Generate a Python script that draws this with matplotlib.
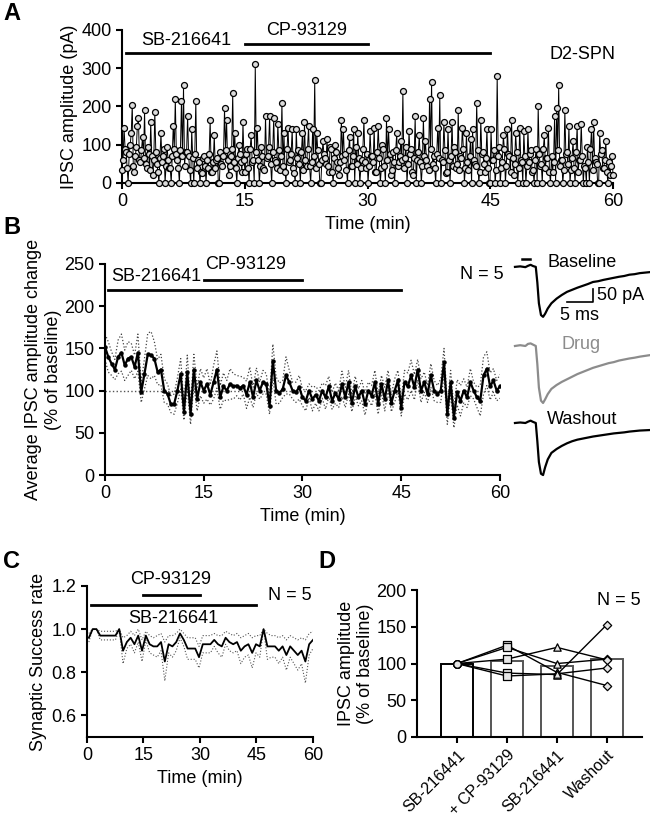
import numpy as np
import matplotlib
matplotlib.use('Agg')
import matplotlib.pyplot as plt

plt.rcParams['font.family'] = ['Liberation Sans', 'DejaVu Sans']
plt.rcParams['font.size'] = 13
plt.rcParams['axes.linewidth'] = 1.5
plt.rcParams['xtick.major.width'] = 1.5
plt.rcParams['ytick.major.width'] = 1.5
plt.rcParams['xtick.major.size'] = 4
plt.rcParams['ytick.major.size'] = 4
plt.rcParams['xtick.direction'] = 'out'
plt.rcParams['ytick.direction'] = 'out'

# ---- panel A: single-cell IPSC amplitudes (sweeps alternate between the two lists) ----
amp_a = [35, 145, 80, 0, 100, 205, 30, 95, 170, 55, 120, 190, 40, 75, 160, 20,
         185, 50, 0, 130, 70, 0, 95, 40, 0, 150, 220, 60, 0, 215, 255, 80,
         175, 35, 140, 0, 215, 60, 0, 25, 70, 0, 40, 165, 30, 125, 60, 0,
         80, 45, 195, 165, 20, 70, 235, 130, 0, 100, 55, 160,
         30, 90, 0, 125, 60, 310, 145, 0, 95, 40, 175, 70, 175, 0, 170, 55,
         155, 35, 210, 130, 0, 145, 60, 140, 25, 140, 85, 0, 130, 160, 45, 150,
         0, 140, 270, 130, 50, 0, 110, 65, 115, 30, 90, 0, 100, 55, 20, 165,
         140, 75, 0, 120, 45, 140, 95, 130, 0, 60, 165, 40,
         0, 135, 70, 145, 30, 150, 0, 100, 45, 170, 140, 20, 80, 0, 130, 55,
         110, 240, 65, 0, 135, 90, 20, 175, 60, 125, 0, 170, 110, 45, 220, 265,
         70, 0, 145, 230, 60, 160, 25, 140, 0, 160, 95, 40, 190, 70, 145, 0,
         130, 35, 115, 140, 50, 210, 0, 165, 80, 30, 140, 0,
         140, 60, 0, 280, 95, 40, 125, 0, 140, 70, 165, 20, 130, 0, 145, 55,
         135, 0, 140, 75, 30, 0, 90, 200, 45, 0, 125, 65, 145, 0, 30, 175,
         195, 255, 60, 0, 190, 80, 150, 35, 110, 0, 150, 60, 155, 0, 40, 95,
         0, 140, 160, 55, 0, 130, 85, 40, 110, 0, 20, 70]
amp_a_between = [60, 90, 40, 75, 130, 45, 70, 150, 60, 85, 65, 50, 95, 35, 70, 60,
                 80, 30, 65, 55, 90, 45, 60, 40, 70, 90, 75, 40, 85, 70, 45, 80,
                 70, 0, 65, 75, 40, 55, 30, 65, 45, 60, 75, 30, 55, 40, 65, 0,
                 50, 70, 85, 60, 45, 90, 55, 40, 65, 75, 30, 60,
                 75, 40, 90, 55, 0, 80, 60, 45, 70, 35, 65, 95, 50, 80, 60, 40,
                 85, 70, 45, 30, 90, 55, 75, 40, 0, 65, 50, 80, 35, 60, 90, 45,
                 55, 70, 40, 85, 0, 60, 75, 50, 45, 95, 30, 65, 80, 40, 55, 70,
                 60, 35, 85, 45, 70, 0, 50, 65, 40, 90, 55, 75,
                 45, 70, 55, 30, 80, 65, 40, 90, 0, 60, 75, 35, 55, 85, 45, 70,
                 60, 40, 95, 50, 75, 30, 65, 0, 80, 55, 45, 70, 60, 35, 90, 50,
                 40, 75, 65, 0, 55, 85, 30, 60, 70, 45, 80, 50, 35, 65, 90, 40,
                 55, 70, 0, 60, 45, 85, 30, 75, 50, 65, 40, 0,
                 60, 85, 35, 70, 0, 55, 90, 45, 75, 30, 65, 50, 80, 40, 60, 0,
                 70, 45, 55, 85, 35, 60, 0, 75, 50, 90, 40, 65, 30, 70, 55, 0,
                 85, 45, 60, 35, 75, 50, 0, 65, 40, 80, 30, 60, 70, 45, 0, 55,
                 90, 35, 65, 50, 0, 75, 40, 60, 30, 55, 45, 20]

# ---- panel B: mean and SEM of normalised amplitude, every 30 s ----
mean_b = [152, 140, 132, 125, 140, 145, 130, 138, 140, 128,
          145, 98, 120, 143, 142, 138, 122, 125, 100, 96,
          84, 84, 100, 120, 75, 122, 72, 125, 90, 110,
          100, 108, 95, 110, 125, 92, 105, 100, 108, 105,
          106, 103, 106, 95, 110, 92, 112, 100, 110, 108,
          82, 135, 100, 97, 102, 118, 110, 100, 98, 104,
          92, 88, 100, 90, 95, 88, 100, 92, 105, 88,
          97, 90, 108, 92, 110, 85, 105, 92, 100, 84,
          100, 94, 110, 84, 108, 90, 112, 85, 100, 112,
          80, 110, 105, 118, 104, 125, 100, 110, 96, 118,
          100, 96, 100, 134, 72, 110, 68, 98, 88, 100,
          92, 110, 100, 92, 88, 118, 126, 105, 112, 100, 105]
sem_b = [15, 18, 14, 12, 20, 22, 18, 20, 16, 14,
         22, 12, 18, 25, 28, 20, 15, 18, 14, 12,
         10, 12, 15, 18, 10, 20, 12, 18, 14, 16,
         15, 18, 12, 20, 22, 14, 16, 12, 18, 15,
         12, 14, 10, 16, 18, 12, 15, 10, 14, 12,
         10, 20, 16, 12, 10, 22, 14, 10, 12, 14,
         10, 12, 8, 14, 10, 12, 9, 14, 12, 10,
         12, 10, 15, 12, 14, 10, 12, 10, 12, 13,
         10, 12, 14, 12, 10, 14, 12, 10, 14, 12,
         10, 14, 16, 18, 15, 12, 14, 12, 10, 14,
         12, 10, 14, 16, 12, 14, 12, 15, 18, 14,
         12, 16, 10, 12, 18, 22, 20, 16, 14, 12, 14]
step_min_b = 0.5

# example traces (ms, pA)
trace_t = [0, 1, 2, 2.5, 3, 3.5, 4, 4.3, 4.6, 5.0, 5.4, 5.8, 6.3, 7, 8, 9, 10,
           11, 12, 13, 14, 15, 16, 17, 18, 19, 20, 21, 22, 23, 24, 25, 26]
trace_base = [0, 2, -1, 4, 8, 3, 0, -60, -140, -185, -192, -180, -160, -140,
              -122, -108, -96, -88, -80, -73, -66, -58, -55, -50, -46, -42,
              -38, -35, -30, -28, -24, -22, -20]
trace_drug = [0, 3, 0, 8, 10, 5, 0, -70, -160, -210, -219, -205, -185, -165,
              -150, -138, -128, -118, -108, -100, -92, -84, -78, -72, -66,
              -62, -56, -52, -48, -45, -41, -38, -35]
trace_wash = [0, 2, 0, 5, 9, 4, 0, -70, -150, -195, -200, -170, -140, -115,
              -100, -88, -78, -70, -64, -60, -56, -52, -49, -46, -43, -40,
              -38, -36, -33, -31, -29, -28, -27]
trace_names = ['Baseline', 'Drug', 'Washout']

# ---- panel C: success rate, every minute ----
mean_c = [0.96, 1.00, 1.00, 0.97, 0.97, 0.97, 0.97, 0.97, 1.00, 0.90,
          0.94, 0.96, 0.93, 0.97, 0.90, 0.97, 0.93, 0.92, 0.92, 0.94,
          0.85, 0.93, 0.92, 0.94, 0.98, 0.95, 0.91, 0.91, 0.91, 0.87,
          0.93, 0.93, 0.93, 0.95, 0.93, 0.92, 0.96, 0.94, 0.93, 0.94,
          0.90, 0.92, 0.93, 0.89, 0.93, 0.92, 1.00, 0.92, 0.92, 0.92,
          0.90, 0.92, 0.88, 0.92, 0.90, 0.88, 0.90, 0.85, 0.93, 0.95]
sem_c = [0.02, 0.00, 0.00, 0.02, 0.02, 0.02, 0.02, 0.02, 0.00, 0.06,
         0.03, 0.03, 0.04, 0.03, 0.05, 0.02, 0.04, 0.04, 0.05, 0.04,
         0.09, 0.04, 0.05, 0.04, 0.02, 0.03, 0.05, 0.05, 0.05, 0.05,
         0.04, 0.04, 0.04, 0.03, 0.04, 0.05, 0.03, 0.04, 0.04, 0.04,
         0.06, 0.05, 0.05, 0.07, 0.04, 0.05, 0.00, 0.06, 0.05, 0.05,
         0.06, 0.05, 0.07, 0.05, 0.06, 0.07, 0.06, 0.10, 0.05, 0.04]

# ---- panel D: summary ----
conditions = ['SB-216441', '+ CP-93129', 'SB-216441', 'Washout']
bar_means = [99, 104, 96, 106]
cells = [[100, 125, 88, 70],
         [100, 122, 100, 106],
         [100, 106, 122, 105],
         [100, 87, 85, 153],
         [100, 83, 86, 94]]
cond_markers = ['o', 's', '^', 'D']

sb_min = (0.5, 45)
cp_min = (15, 30)


def clean(ax):
    ax.spines['top'].set_visible(False)
    ax.spines['right'].set_visible(False)


fig = plt.figure(figsize=(6.5, 8.25), dpi=100)

# A
axA = fig.add_axes([0.1877, 0.7782, 0.7554, 0.1855])
ampA = np.empty(len(amp_a) * 2)
ampA[0::2] = amp_a
ampA[1::2] = amp_a_between
tA = np.linspace(0, 60, len(ampA))
axA.plot(tA, ampA, color='black', lw=0.7, marker='o', ms=4.3,
         mfc='#dcdcdc', mec='black', mew=0.9, clip_on=False, zorder=3)
axA.set_xlim(0, 60)
axA.set_ylim(0, 400)
axA.set_xticks([0, 15, 30, 45, 60])
axA.set_yticks([0, 100, 200, 300, 400])
axA.plot(sb_min, [340, 340], color='black', lw=2)
axA.plot(cp_min, [363, 363], color='black', lw=2)
axA.text(7.8, 373, 'SB-216641', ha='center', va='center')
axA.text(22.5, 398, 'CP-93129', ha='center', va='center')
axA.text(56.3, 335, 'D2-SPN', ha='center', va='center')
axA.set_xlabel('Time (min)')
axA.set_ylabel('IPSC amplitude (pA)')
axA.yaxis.set_label_coords(-0.09, 0.5)
clean(axA)

# B
axB = fig.add_axes([0.1615, 0.4242, 0.6077, 0.2558])
tB = np.arange(len(mean_b)) * step_min_b
mb = np.array(mean_b)
sb = np.array(sem_b)
axB.axhline(100, color='#555555', lw=1, ls=':')
axB.plot(tB, mb + sb, color='#444444', lw=0.9, ls=':')
axB.plot(tB, mb - sb, color='#444444', lw=0.9, ls=':')
axB.plot(tB, mb, color='black', lw=1.6, marker='o', ms=2.2)
axB.set_xlim(0, 60)
axB.set_ylim(0, 250)
axB.set_xticks([0, 15, 30, 45, 60])
axB.set_yticks([0, 50, 100, 150, 200, 250])
axB.plot(sb_min, [219, 219], color='black', lw=2)
axB.plot(cp_min, [231, 231], color='black', lw=2)
axB.text(7.75, 235, 'SB-216641', ha='center', va='center')
axB.text(21.3, 249, 'CP-93129', ha='center', va='center', clip_on=False)
axB.text(57.2, 237, 'N = 5', ha='center', va='center')
axB.set_xlabel('Time (min)')
axB.set_ylabel('Average IPSC amplitude change\n(% of baseline)')
axB.yaxis.set_label_coords(-0.11, 0.5)
clean(axB)

# traces
axT = fig.add_axes([0.7769, 0.4182, 0.2231, 0.2788])
axT.axis('off')
axT.set_xlim(-1.92, 25.96)
axT.set_ylim(-819, 65)
offsets = [0, -304, -600]
colors = ['black', '#8c8c8c', 'black']
label_pos = [(6.2, 15), (9.0, -300), (6.2, -588)]
for tr, off, c, name, lp in zip([trace_base, trace_drug, trace_wash], offsets,
                                colors, trace_names, label_pos):
    axT.plot(trace_t, np.array(tr) + off, color=c, lw=1.6)
    axT.text(lp[0], lp[1], name, color=c, ha='left', va='center')
axT.plot([1.3, 2.9], [30, 30], color='black', lw=1.8)
axT.plot([10, 15, 15], [-135, -135, -85], color='black', lw=1.2)
axT.text(15.8, -110, '50 pA', ha='left', va='center')
axT.text(12.5, -185, '5 ms', ha='center', va='center')

# C
axC = fig.add_axes([0.1338, 0.1067, 0.3477, 0.183])
tC = np.linspace(0.5, 60, len(mean_c))
mc = np.array(mean_c)
sc = np.array(sem_c)
axC.plot(tC, mc + sc, color='#555555', lw=0.8, ls=':')
axC.plot(tC, mc - sc, color='#555555', lw=0.8, ls=':')
axC.plot(tC, mc, color='black', lw=1.3)
axC.set_xlim(0, 60)
axC.set_ylim(0.5, 1.2)
axC.set_xticks([0, 15, 30, 45, 60])
axC.set_yticks([0.6, 0.8, 1.0, 1.2])
axC.set_yticklabels(['0.6', '0.8', '1.0', '1.2'])
axC.plot([1, 45], [1.112, 1.112], color='black', lw=2)
axC.plot(cp_min, [1.158, 1.158], color='black', lw=2)
axC.text(22.3, 1.232, 'CP-93129', ha='center', va='center', clip_on=False)
axC.text(22.8, 1.047, 'SB-216641', ha='center', va='center')
axC.text(53.9, 1.158, 'N = 5', ha='center', va='center')
axC.set_xlabel('Time (min)')
axC.set_ylabel('Synaptic Success rate')
axC.yaxis.set_label_coords(-0.176, 0.5)
clean(axC)

# D
axD = fig.add_axes([0.6415, 0.1067, 0.346, 0.178])
xD = np.arange(len(conditions))
axD.bar(xD, bar_means, width=0.64, color='white',
        edgecolor=['black', '#555555', '#555555', '#555555'], lw=1.4, zorder=1)
for cell in cells:
    axD.plot(xD, cell, color='black', lw=1, zorder=2)
for i, m in enumerate(cond_markers):
    axD.scatter(np.full(len(cells), xD[i]), [c[i] for c in cells], marker=m,
                s=28 if m != 'D' else 18, facecolor='#e6e6e6', edgecolor='black',
                lw=0.9, zorder=3)
axD.set_xlim(-0.8, 3.7)
axD.set_ylim(0, 200)
axD.set_yticks([0, 50, 100, 150, 200])
axD.set_xticks(xD)
axD.set_xticklabels(conditions, rotation=45, ha='right', rotation_mode='anchor',
                    fontsize=11.5)
axD.text(3.24, 186, 'N = 5', ha='center', va='center')
axD.set_ylabel('IPSC amplitude\n(% of baseline)')
axD.yaxis.set_label_coords(-0.19, 0.5)
clean(axD)

for letter, x, y in [('A', 0.005, 0.998), ('B', 0.005, 0.738),
                     ('C', 0.005, 0.333), ('D', 0.49, 0.333)]:
    fig.text(x, y, letter, fontsize=17, fontweight='bold', va='top', ha='left')

fig.savefig('out.png', dpi=100)
